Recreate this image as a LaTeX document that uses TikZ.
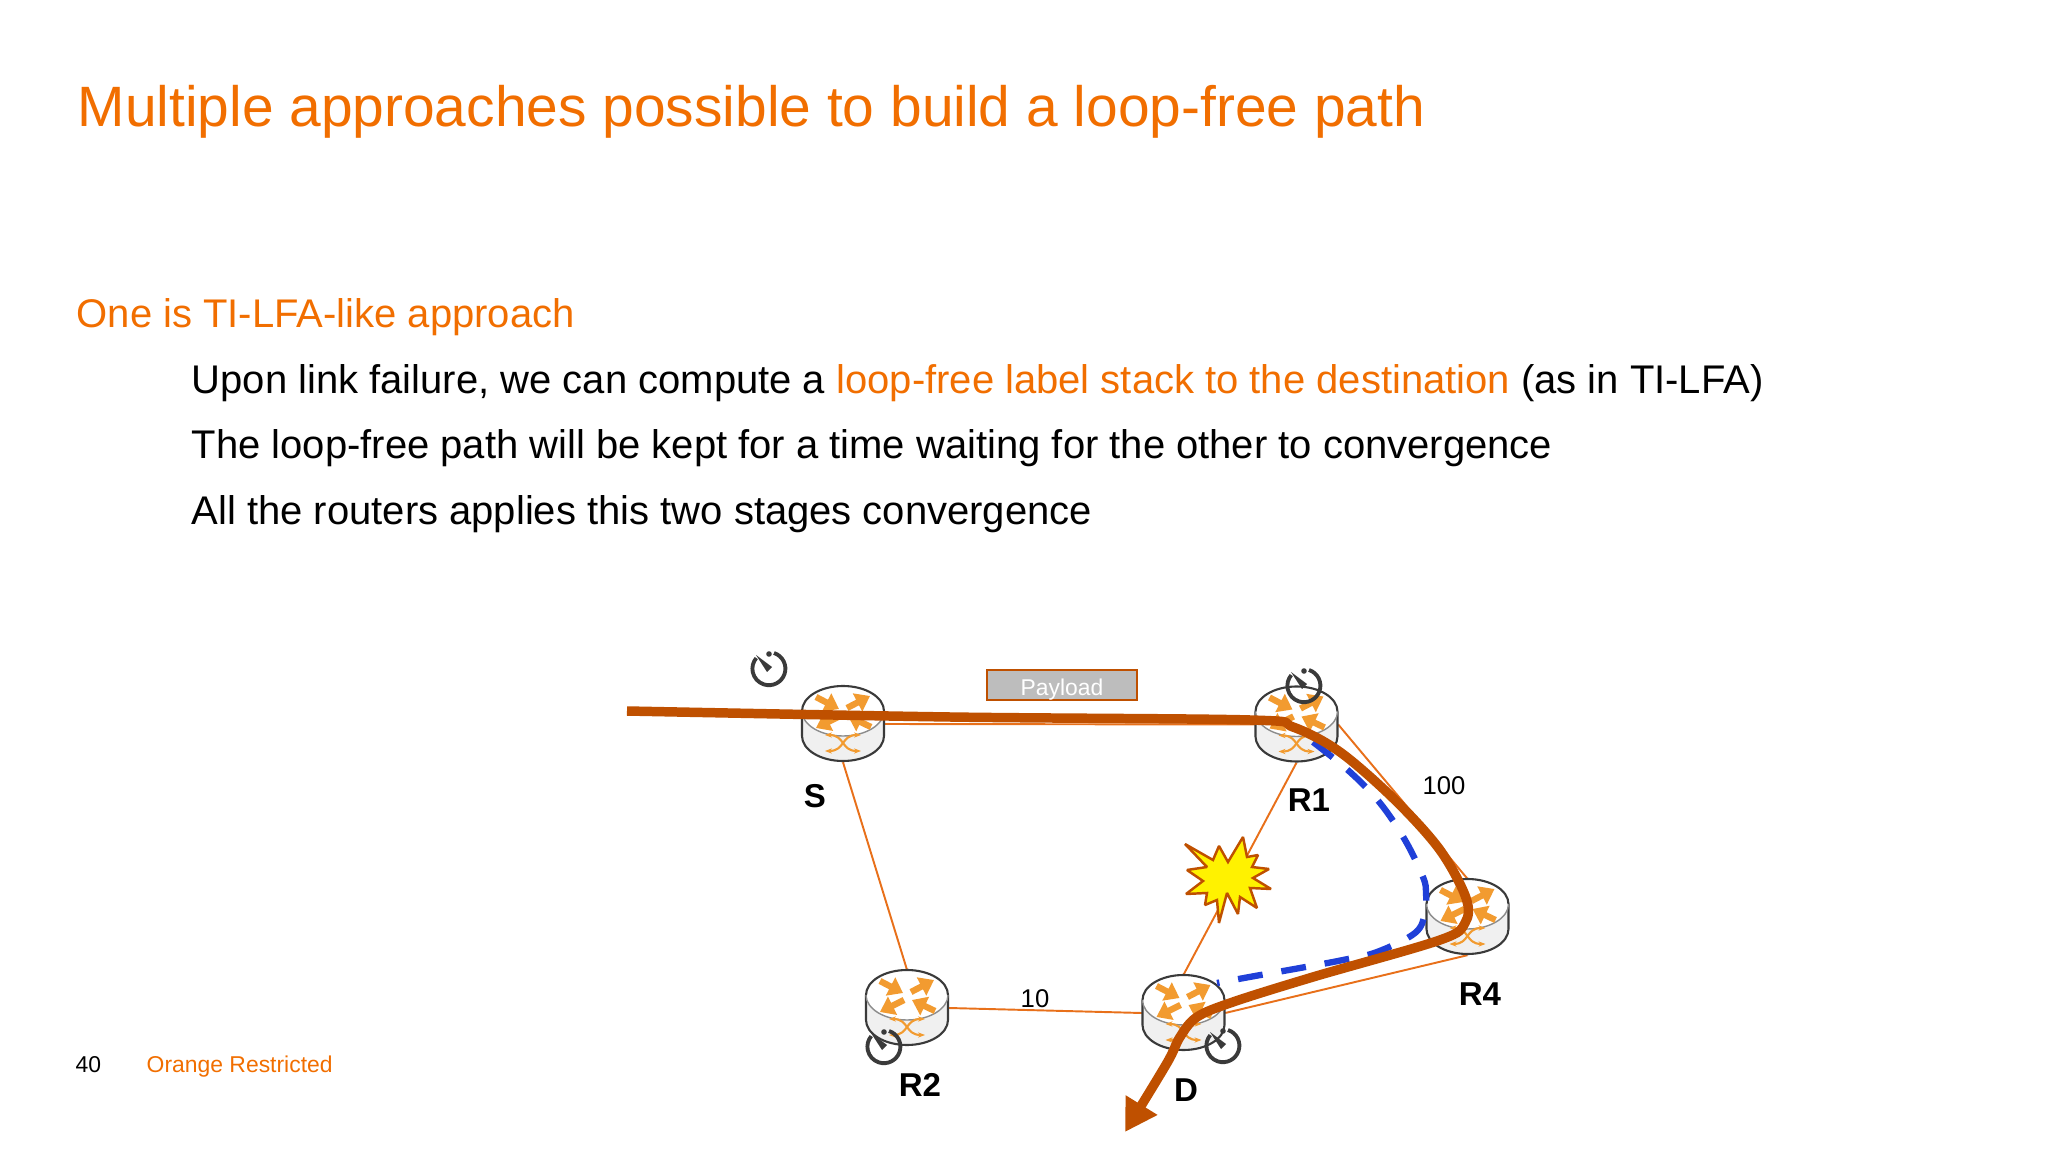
\documentclass[tikz,border=0pt]{standalone}
\usepackage{fontspec}
\setmainfont{Liberation Sans}
\usetikzlibrary{arrows.meta}
\definecolor{orangetext}{HTML}{F16E00}
\definecolor{flowbrown}{HTML}{BF5000}
\definecolor{linkorange}{HTML}{E8701A}
\definecolor{iconorange}{HTML}{F29B30}
\definecolor{pathblue}{HTML}{2040D8}
\definecolor{clockgrey}{HTML}{3A3A3A}
\tikzset{
	router/.pic={
		\draw[clockgrey, line width=.6pt, fill=black!6] (-.41,.13) -- (-.41,-.12) arc[start angle=180, end angle=360, x radius=.41, y radius=.25] -- (.41,.13);
		\fill[white] (0,.13) ellipse (.41 and .25);
		\draw[black!45, line width=.4pt] (-.41,.13) arc[start angle=180, end angle=360, x radius=.41, y radius=.25];
		\draw[clockgrey, line width=.6pt] (-.41,.13) arc[start angle=180, end angle=0, x radius=.41, y radius=.25];
		\foreach \ax/\ay/\bx/\by in {-.27/.27/-.04/.15, .04/.16/.27/.28, -.03/.08/-.27/-.04, .28/-.03/.05/.08}
			\draw[iconorange, line width=1.8pt, -{Triangle[length=4pt, width=5.6pt]}] (\ax,\ay) -- (\bx,\by);
		\draw[iconorange, line width=.6pt, {Stealth[length=2pt]}-{Stealth[length=2pt]}] (-.18,-.11) .. controls (.02,-.11) and (-.02,-.27) .. (.18,-.27);
		\draw[iconorange, line width=.6pt, {Stealth[length=2pt]}-{Stealth[length=2pt]}] (-.18,-.27) .. controls (.02,-.27) and (-.02,-.11) .. (.18,-.11);
	},
	clock/.pic={
		\draw[clockgrey, line width=1.1pt] (.05,.16) arc[start angle=72, end angle=-220, radius=.165];
		\fill[clockgrey] (0,.15) circle (.028);
		\fill[clockgrey] (-.13,.14) -- (.03,.02) -- (-.02,-.03) -- cycle;
	}
}
\begin{document}
\begin{tikzpicture}
	[routernode/.style={minimum width=8.2mm, minimum height=7.5mm, inner sep=0},
	link/.style={linkorange, line width=.55pt},
	flow/.style={flowbrown, line width=2.7pt, line join=round, -{Triangle[length=9pt, width=10pt]}},
	loopfree/.style={pathblue, line width=1.8pt, dash pattern=on 7.1pt off 5.4pt},
	label/.style={anchor=base, font=\fontsize{9.4pt}{11pt}\selectfont\bfseries},
	metric/.style={anchor=base, font=\fontsize{7.3pt}{9pt}\selectfont},
	textline/.style={anchor=base west, inner sep=0, font=\fontsize{11.38pt}{14pt}\selectfont}]
	\useasboundingbox (0,0) rectangle (20.48,-11.52);
	\node[anchor=base west, inner sep=0, text=orangetext, font=\fontsize{16.19pt}{20pt}\selectfont] (title) at (.77,-1.27) {Multiple approaches possible to build a loop-free path};
	\node[textline, text=orangetext] (lead) at (.76,-3.28) {One is TI-LFA-like approach};
	\node[textline] (stepone) at (1.91,-3.94) {Upon link failure, we can compute a \textcolor{orangetext}{loop-free label stack to the destination} (as in TI-LFA)};
	\node[textline] (steptwo) at (1.91,-4.59) {The loop-free path will be kept for a time waiting for the other to convergence};
	\node[textline] (stepthree) at (1.91,-5.25) {All the routers applies this two stages convergence};
	\node[anchor=base west, inner sep=0, font=\fontsize{6.52pt}{8pt}\selectfont] (page) at (.75,-10.72) {40};
	\node[anchor=base west, inner sep=0, text=orangetext, font=\fontsize{6.52pt}{8pt}\selectfont] (class) at (1.46,-10.72) {Orange Restricted};
	\node[routernode] (S) at (8.43,-7.24) {};
	\node[routernode] (R1) at (12.965,-7.245) {};
	\node[routernode] (R4) at (14.675,-9.17) {};
	\node[routernode] (R2) at (9.07,-10.08) {};
	\node[routernode] (D) at (11.835,-10.13) {};
	\draw[link] (S.east) -- (R1.west);
	\draw[link] (S.south) -- (R2.north);
	\draw[link] (R2.east) -- (D.west);
	\draw[link] (D.north) -- (R1.south);
	\draw[link] (R1.east) -- (R4.north);
	\draw[link] (R4.south) -- (D.east);
	\foreach \n in {S,R1,R4,R2,D}
		\pic at (\n) {router};
	\pic at (7.69,-6.69) {clock};
	\pic at (13.04,-6.86) {clock};
	\pic at (8.84,-10.47) {clock};
	\pic at (12.23,-10.46) {clock};
	\draw[draw=flowbrown, line width=.7pt, fill=yellow, miter limit=2] (11.85,-8.44) -- (12.13,-8.60) -- (12.19,-8.46) -- (12.28,-8.62) -- (12.43,-8.37) -- (12.47,-8.57) -- (12.58,-8.55) -- (12.52,-8.67) -- (12.69,-8.69) -- (12.53,-8.78) -- (12.71,-8.89) -- (12.50,-8.88) -- (12.57,-9.08) -- (12.40,-8.97) -- (12.38,-9.14) -- (12.27,-8.93) -- (12.19,-9.23) -- (12.17,-9.00) -- (12.05,-9.05) -- (12.07,-8.93) -- (11.86,-8.94) -- (12.03,-8.81) -- (11.87,-8.70) -- (12.07,-8.67) -- cycle;
	\node[draw=flowbrown, line width=.8pt, fill=black!26, text=white, minimum width=15mm, minimum height=3mm, inner sep=0, text height=6.2pt, text depth=0pt, font=\fontsize{6.5pt}{8pt}\selectfont] (payload) at (10.62,-6.85) {Payload};
	\coordinate (flowin) at (6.27,-7.11);
	\coordinate (flowout) at (11.25,-11.32);
	\draw[loopfree] plot[smooth, tension=.6] coordinates {(13.13,-7.42) (13.50,-7.72) (13.80,-8.03) (14.05,-8.40) (14.23,-8.77) (14.26,-8.93) (14.25,-9.13) (14.15,-9.33) (13.77,-9.52) (13.43,-9.60) (13.00,-9.68) (12.55,-9.76) (12.17,-9.83)};
	\draw[flow] plot[smooth, tension=.55] coordinates {(flowin) (9.50,-7.17) (12.50,-7.20) (12.93,-7.27) (13.40,-7.52) (13.95,-8.00) (14.40,-8.50) (14.66,-8.98) (14.65,-9.23) (14.40,-9.40) (13.13,-9.77) (12.33,-10.02) (11.97,-10.17) (11.80,-10.37) (11.67,-10.63) (flowout)};
	\node[label] (labelS) at (8.15,-8.08) {S};
	\node[label] (labelR1) at (13.09,-8.12) {R1};
	\node[label] (labelR4) at (14.80,-10.05) {R4};
	\node[label] (labelR2) at (9.20,-10.96) {R2};
	\node[label] (labelD) at (11.86,-11.01) {D};
	\node[metric] (metricR1) at (14.44,-7.94) {100};
	\node[metric] (metricR2) at (10.35,-10.07) {10};
\end{tikzpicture}
\end{document}
